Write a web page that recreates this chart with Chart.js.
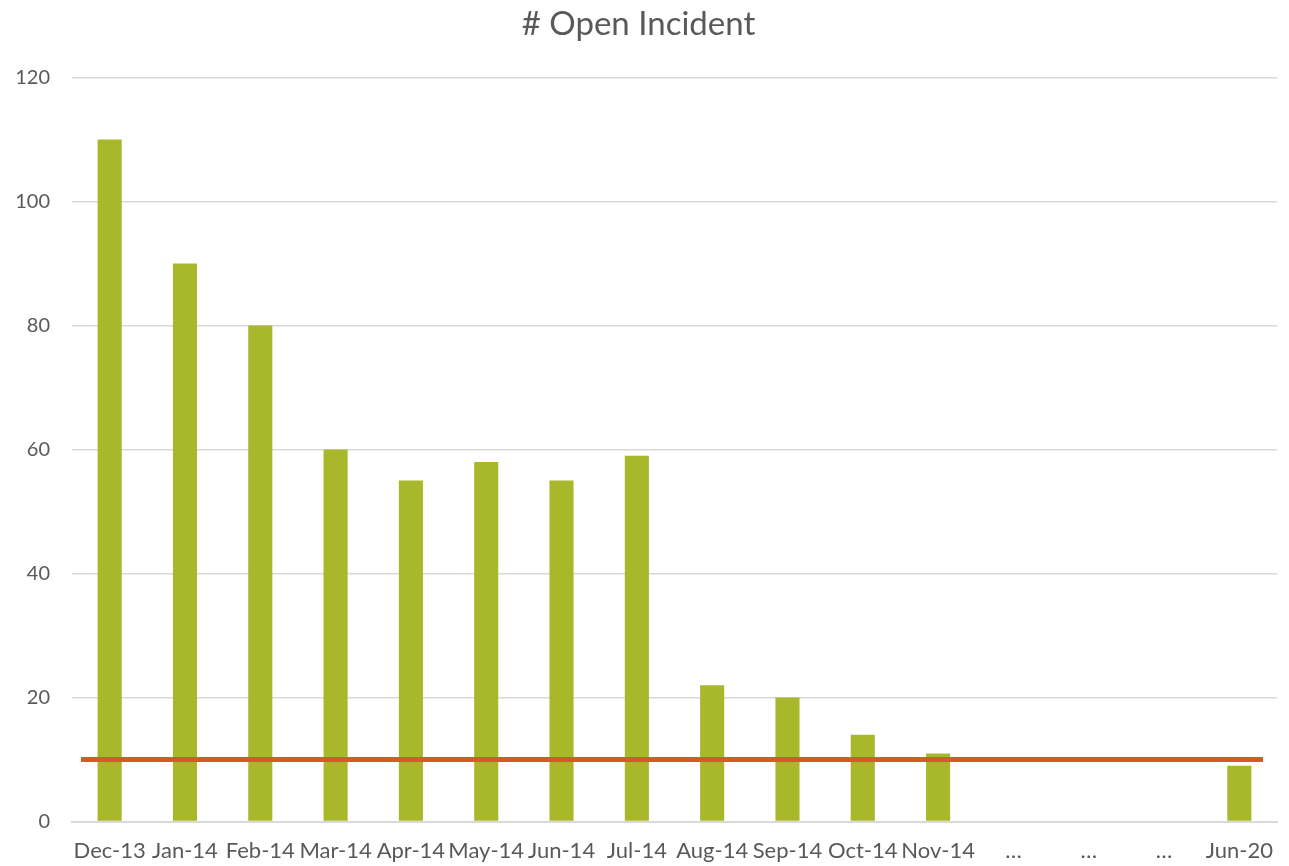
<!DOCTYPE html>
<html>
<head>
<meta charset="utf-8">
<script src="https://cdn.jsdelivr.net/npm/chart.js@4.4.1/dist/chart.umd.min.js"></script>
<style>
  html, body { margin: 0; padding: 0; background: #fff; }
  #wrap { width: 1289px; height: 866px; }
</style>
</head>
<body>
<div id="wrap"><canvas id="incident-chart" width="1289" height="866"></canvas></div>
<script>
// chart data
const months = ['Dec-13', 'Jan-14', 'Feb-14', 'Mar-14', 'Apr-14', 'May-14', 'Jun-14', 'Jul-14',
                'Aug-14', 'Sep-14', 'Oct-14', 'Nov-14', '…', '…', '…', 'Jun-20'];
const openIncidents = [110, 90, 80, 60, 55, 58, 55, 59, 22, 20, 14, 11, null, null, null, 9];
const targetLevel = 10;
const yTicks = [0, 20, 40, 60, 80, 100, 120];

const textColor = '#595959';
const fontName = 'Lato, "Open Sans", sans-serif';

// target line drawn across the plot at the target value
const targetLinePlugin = {
    id: 'targetLine',
    afterDatasetsDraw(chart) {
        const { ctx, chartArea, scales } = chart;
        const y = scales.y.getPixelForValue(targetLevel);
        ctx.save();
        ctx.strokeStyle = '#E0542A';
        ctx.lineWidth = 5;
        ctx.beginPath();
        ctx.moveTo(chartArea.left + 9, y);
        ctx.lineTo(chartArea.right - 14, y);
        ctx.stroke();
        ctx.restore();
    }
};

const canvas = document.getElementById('incident-chart');
new Chart(canvas, {
    type: 'bar',
    data: {
        labels: months,
        datasets: [{
            label: '# Open Incident',
            data: openIncidents,
            backgroundColor: '#A8B82A',
            borderWidth: 0,
            barPercentage: 0.32,
            categoryPercentage: 1.0
        }]
    },
    options: {
        responsive: false,
        animation: false,
        layout: {
            padding: { left: 0, right: 12, top: 0, bottom: -6 }
        },
        plugins: {
            legend: { display: false },
            tooltip: { enabled: false },
            title: {
                display: true,
                text: '# Open Incident',
                color: textColor,
                font: { family: fontName, size: 33, weight: 'normal' },
                padding: { top: 5, bottom: 33 }
            }
        },
        scales: {
            x: {
                grid: { display: false },
                border: { display: true, color: '#D9D9D9', width: 2 },
                ticks: {
                    color: textColor,
                    font: { family: fontName, size: 22 },
                    maxRotation: 0,
                    minRotation: 0,
                    autoSkip: false,
                    padding: 8
                }
            },
            y: {
                min: 0,
                max: 120,
                afterBuildTicks(axis) {
                    axis.ticks = yTicks.map(v => ({ value: v }));
                },
                afterFit(axis) {
                    axis.width = 72;
                },
                grid: { color: '#D9D9D9', lineWidth: 1.5, drawTicks: false },
                border: { display: false },
                ticks: {
                    color: textColor,
                    font: { family: fontName, size: 20 },
                    padding: 22
                }
            }
        }
    },
    plugins: [targetLinePlugin]
});
</script>
</body>
</html>
